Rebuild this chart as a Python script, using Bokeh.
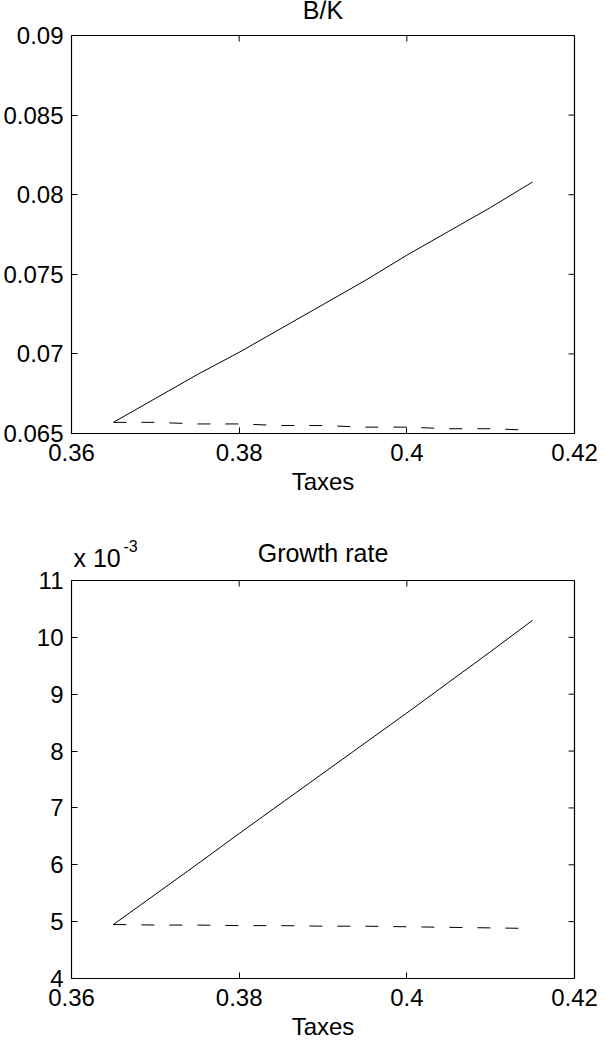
import math
from bokeh.plotting import figure
from bokeh.models import Range1d, FixedTicker
from bokeh.layouts import column
from bokeh.core.properties import value
from bokeh.embed import file_html
from bokeh.resources import INLINE

# ---- data ----
taxes = [0.365, 0.370, 0.375, 0.380, 0.385, 0.390, 0.395, 0.400, 0.405, 0.410, 0.415]
bk_solid = [0.0657, 0.0672, 0.0687, 0.0701, 0.0716, 0.0731, 0.0746, 0.0762, 0.0777, 0.0792, 0.0808]
bk_dashed = [0.0657, 0.0657, 0.0656, 0.0656, 0.0655, 0.0655, 0.0654, 0.0654, 0.0653, 0.0653, 0.0652]
growth_solid_e3 = [4.95, 5.48, 6.01, 6.55, 7.08, 7.61, 8.14, 8.67, 9.21, 9.75, 10.30]
growth_dashed_e3 = [4.95, 4.94, 4.94, 4.93, 4.93, 4.92, 4.92, 4.91, 4.90, 4.89, 4.88]

x_ticks = [0.36, 0.38, 0.40, 0.42]
x_tick_labels = ["0.36", "0.38", "0.4", "0.42"]
bk_ticks = [0.065, 0.07, 0.075, 0.08, 0.085, 0.09]
bk_tick_labels = ["0.065", "0.07", "0.075", "0.08", "0.085", "0.09"]
gr_ticks = [4, 5, 6, 7, 8, 9, 10, 11]
gr_tick_labels = ["4", "5", "6", "7", "8", "9", "10", "11"]

title_top = "B/K"
title_bottom = "Growth rate"
x_label = "Taxes"
scale_text = "x 10"
scale_exp = "-3"

FONT = "Liberation Sans"
FS = "24px"
TFS = "25px"
W = 598
BL, BR = 69, 24
X0, X1 = 0.36, 0.42
TOP = 13  # room above each box for the top tick label


def style_axis(ax, ticks, labels):
    ax.ticker = FixedTicker(ticks=ticks)
    ax.major_label_overrides = dict(zip(ticks, labels))
    ax.axis_line_color = None
    ax.major_tick_in = 6
    ax.major_tick_out = 0
    ax.major_tick_line_color = "black"
    ax.major_tick_line_width = 1
    ax.minor_tick_line_color = None
    ax.major_label_text_font = FONT
    ax.major_label_text_font_size = FS
    ax.major_label_text_color = "black"


def header(height):
    h = figure(width=W, height=height, x_range=Range1d(X0, X1), y_range=Range1d(0, height),
               x_axis_type=None, y_axis_type=None,
               output_backend="svg", toolbar_location=None,
               min_border_left=BL, min_border_right=BR, min_border_top=0, min_border_bottom=0,
               background_fill_color="white", border_fill_color="white")
    h.grid.visible = False
    h.outline_line_color = None
    return h


def make_fig(height, bottom, y0, y1, yticks, ylabels):
    p = figure(width=W, height=height,
               x_range=Range1d(X0, X1), y_range=Range1d(y0, y1),
               output_backend="svg", toolbar_location=None,
               min_border_left=BL, min_border_right=BR,
               min_border_top=TOP, min_border_bottom=bottom,
               background_fill_color="white", border_fill_color="white")
    p.grid.visible = False
    p.outline_line_color = "black"
    p.outline_line_width = 1.2
    style_axis(p.xaxis[0], x_ticks, x_tick_labels)
    p.xaxis[0].major_label_standoff = 10
    p.xaxis[0].axis_label = x_label
    p.xaxis[0].axis_label_text_font = FONT
    p.xaxis[0].axis_label_text_font_size = FS
    p.xaxis[0].axis_label_text_font_style = "normal"
    p.xaxis[0].axis_label_text_color = "black"
    p.xaxis[0].axis_label_standoff = 4
    style_axis(p.yaxis[0], yticks, ylabels)
    p.yaxis[0].major_label_standoff = 8
    # mirrored inward ticks on the top and right edges of the box
    p.ray(x=x_ticks, y=[y1] * len(x_ticks), length=6, length_units="screen",
          angle=-math.pi / 2, line_color="black", line_width=1)
    p.ray(x=[X1] * len(yticks), y=yticks, length=6, length_units="screen",
          angle=math.pi, line_color="black", line_width=1)
    return p


def htext(h, x, y, txt, size, align, x_offset=0):
    h.text(x=[x], y=[y], x_offset=x_offset, text=[txt], text_align=align,
           text_baseline="middle", text_font=value(FONT), text_font_size=value(size),
           text_color="black")


# ---- B/K ----
h1 = header(22)
htext(h1, (X0 + X1) / 2, 12.5, title_top, TFS, "center")

p1 = make_fig(498, 87, 0.065, 0.09, bk_ticks, bk_tick_labels)
p1.line(taxes, bk_solid, line_color="black", line_width=1)
p1.line(taxes, bk_dashed, line_color="black", line_width=1, line_dash="13 15")

# ---- Growth rate ----
h2 = header(47)
htext(h2, (X0 + X1) / 2, 14.5, title_bottom, TFS, "center")
htext(h2, X0, 9.5, scale_text, TFS, "left", x_offset=2)
htext(h2, X0, 22, scale_exp, "16px", "left", x_offset=52)

p2 = make_fig(478, 67, 4, 11, gr_ticks, gr_tick_labels)
p2.line(taxes, growth_solid_e3, line_color="black", line_width=1)
p2.line(taxes, growth_dashed_e3, line_color="black", line_width=1, line_dash="13 15")

layout = column(h1, p1, h2, p2, spacing=0)
open("out.html", "w").write(file_html(layout, INLINE))
